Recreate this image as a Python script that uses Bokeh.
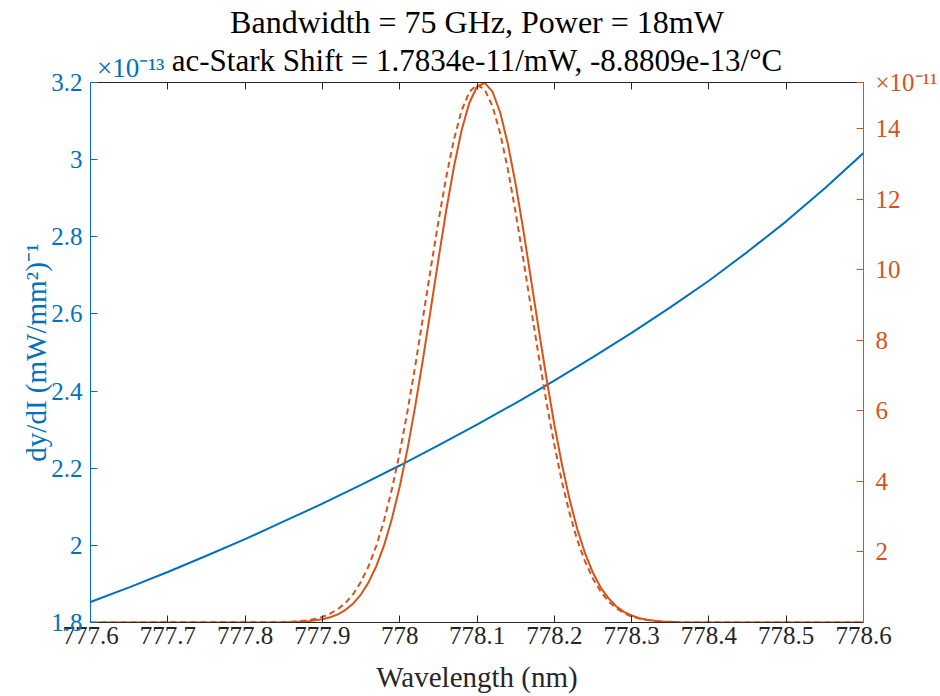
from bokeh.plotting import figure
from bokeh.models import Range1d, LinearAxis, FixedTicker, CustomJSTickFormatter, Title
from bokeh.embed import file_html
from bokeh.resources import INLINE

# ---- data ----
wavelength_blue = [777.6, 777.65, 777.7, 777.75, 777.8, 777.85, 777.9, 777.95, 778.0, 778.05,
                   778.1, 778.15, 778.2, 778.25, 778.3, 778.35, 778.4, 778.45, 778.5, 778.55, 778.6]
dydI = [1.853, 1.891, 1.931, 1.973, 2.016, 2.062, 2.108, 2.157, 2.207, 2.259,
        2.313, 2.369, 2.427, 2.488, 2.551, 2.617, 2.686, 2.761, 2.840, 2.926, 3.017]  # x1e-13

wavelength_orange = [777.6, 777.84, 777.85, 777.86, 777.87, 777.88, 777.89, 777.90, 777.91, 777.92,
                     777.93, 777.94, 777.95, 777.96, 777.97, 777.98, 777.99, 778.00, 778.01, 778.02,
                     778.03, 778.04, 778.05, 778.06, 778.07, 778.08, 778.09, 778.10, 778.11, 778.12,
                     778.13, 778.14, 778.15, 778.16, 778.17, 778.18, 778.19, 778.20, 778.21, 778.22,
                     778.23, 778.24, 778.25, 778.26, 778.27, 778.28, 778.29, 778.30, 778.31, 778.32,
                     778.33, 778.34, 778.35, 778.36, 778.38, 778.6]
spectrum_solid = [0, 0.00, 0.01, 0.01, 0.02, 0.03, 0.06, 0.09, 0.15, 0.23,
                  0.36, 0.54, 0.80, 1.15, 1.61, 2.20, 2.95, 3.85, 4.91, 6.12,
                  7.45, 8.86, 10.28, 11.66, 12.90, 13.95, 14.73, 15.19, 15.30, 15.05,
                  14.46, 13.56, 12.43, 11.12, 9.71, 8.29, 6.91, 5.62, 4.47, 3.47,
                  2.63, 1.95, 1.41, 0.99, 0.69, 0.46, 0.30, 0.20, 0.12, 0.08,
                  0.05, 0.03, 0.02, 0.01, 0.00, 0]  # x1e-11
spectrum_dash = [0, 0.01, 0.01, 0.02, 0.04, 0.06, 0.10, 0.16, 0.25, 0.38,
                 0.56, 0.81, 1.16, 1.61, 2.19, 2.91, 3.79, 4.81, 5.98, 7.26,
                 8.63, 10.01, 11.36, 12.61, 13.68, 14.51, 15.04, 15.25, 15.11, 14.64,
                 13.87, 12.84, 11.62, 10.29, 8.90, 7.53, 6.23, 5.04, 3.98, 3.08,
                 2.32, 1.72, 1.24, 0.88, 0.60, 0.41, 0.27, 0.17, 0.11, 0.07,
                 0.04, 0.02, 0.01, 0.01, 0.00, 0]  # x1e-11

x_ticks = [777.6, 777.7, 777.8, 777.9, 778.0, 778.1, 778.2, 778.3, 778.4, 778.5, 778.6]
left_ticks = [1.8, 2.0, 2.2, 2.4, 2.6, 2.8, 3.0, 3.2]
right_ticks = [2, 4, 6, 8, 10, 12, 14]

title_line1 = "Bandwidth = 75 GHz, Power = 18mW"
title_line2 = "ac-Stark Shift = 1.7834e-11/mW, -8.8809e-13/\u00b0C"
left_exponent = "\u00d710\u207b\u00b9\u00b3"    # x10^-13
right_exponent = "\u00d710\u207b\u00b9\u00b9"   # x10^-11

BLUE = "#0072BD"
ORANGE = "#D95319"
DARK = "#262626"
FONT = "Liberation Serif"
TICK_FS = "25px"
LABEL_FS = "29px"

x_lo, x_hi = 777.6, 778.6
yl_lo, yl_hi = 1.8, 3.2
yr_lo, yr_hi = 0.0, 15.31

p = figure(width=940, height=696, title=None, output_backend="svg", toolbar_location=None,
           x_range=Range1d(x_lo, x_hi), y_range=Range1d(yl_lo, yl_hi),
           x_axis_location=None, y_axis_location=None,
           min_border_left=90, min_border_right=77, min_border_top=82, min_border_bottom=74)
p.extra_y_ranges = {"right": Range1d(yr_lo, yr_hi)}
p.xgrid.visible = False
p.ygrid.visible = False
p.outline_line_color = None

fmt = CustomJSTickFormatter(code="return String(Math.round(tick*10)/10);")

def style_axis(ax, color, label_color):
    ax.axis_line_color = color
    ax.major_tick_line_color = color
    ax.minor_tick_line_color = None
    ax.major_tick_in = 7
    ax.major_tick_out = 0
    ax.axis_line_width = 1
    ax.major_label_text_font = FONT
    ax.major_label_text_font_size = TICK_FS
    ax.major_label_text_color = label_color
    ax.axis_label_text_font = FONT
    ax.axis_label_text_font_size = LABEL_FS
    ax.axis_label_text_font_style = "normal"

# bottom x axis
xb = LinearAxis(ticker=FixedTicker(ticks=x_ticks), formatter=fmt, axis_label="Wavelength (nm)")
style_axis(xb, DARK, DARK)
xb.axis_label_text_color = DARK
xb.major_label_standoff = 4
xb.axis_label_standoff = 14
p.add_layout(xb, "below")

# top x axis: frame edge with inward ticks only
xt = LinearAxis(ticker=FixedTicker(ticks=x_ticks), formatter=fmt)
style_axis(xt, DARK, None)
xt.major_label_text_font_size = "0px"
xt.major_label_standoff = 0
p.add_layout(xt, "above")

# header row: left exponent (as a label-only top axis) + second title line (its axis label)
exp_pos = [777.652]
xh = LinearAxis(ticker=FixedTicker(ticks=exp_pos),
                formatter=CustomJSTickFormatter(args=dict(t=left_exponent), code="return t;"),
                axis_label=title_line2)
style_axis(xh, None, BLUE)
xh.major_tick_in = 0
xh.major_label_text_font_size = "27px"
xh.major_label_standoff = 0
xh.axis_label_text_color = "black"
xh.axis_label_text_font_size = "31px"
xh.axis_label_standoff = -28
p.add_layout(xh, "above")

# left y axis
yl = LinearAxis(ticker=FixedTicker(ticks=left_ticks), formatter=fmt,
                axis_label="dy/dI (mW/mm\u00b2)\u207b\u00b9")
style_axis(yl, BLUE, BLUE)
yl.axis_label_text_color = BLUE
yl.major_label_standoff = 8
yl.axis_label_standoff = -4
p.add_layout(yl, "left")

# right y axis (its top tick carries the exponent)
yr = LinearAxis(y_range_name="right", ticker=FixedTicker(ticks=right_ticks + [yr_hi]),
                formatter=CustomJSTickFormatter(args=dict(t=right_exponent, top=yr_hi),
                                                code="return tick >= top ? t : String(Math.round(tick*10)/10);"))
style_axis(yr, ORANGE, ORANGE)
yr.major_label_standoff = 12
p.add_layout(yr, "right")

# first title line
p.add_layout(Title(text=title_line1, align="center", text_font=FONT, text_font_size="32px",
                   text_font_style="normal", text_color="black", standoff=0), "above")

p.line(wavelength_blue, dydI, line_color=BLUE, line_width=2)
p.line(wavelength_orange, spectrum_solid, line_color=ORANGE, line_width=2, y_range_name="right")
p.line(wavelength_orange, spectrum_dash, line_color=ORANGE, line_width=2, line_dash="6 4",
       y_range_name="right")

open("out.html", "w").write(file_html(p, INLINE))
